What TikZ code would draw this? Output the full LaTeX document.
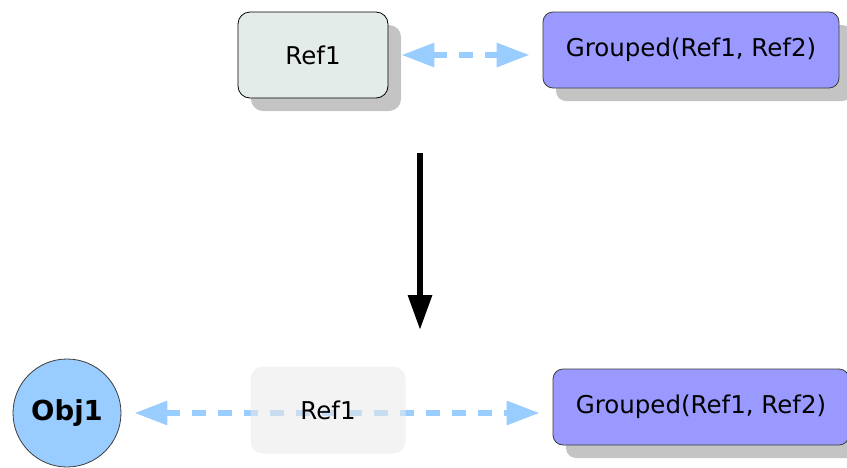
\documentclass[tikz,border=0pt]{standalone}
\usepackage{fontspec}
\setmainfont{DejaVu Sans}
\usetikzlibrary{arrows.meta,shadows}
\definecolor{refgray}{RGB}{228,236,234}
\definecolor{grpblue}{RGB}{153,153,255}
\definecolor{objblue}{RGB}{153,204,255}
\definecolor{linkblue}{RGB}{153,204,255}
\definecolor{shadowgray}{RGB}{196,196,196}
\definecolor{ghostgray}{RGB}{234,234,234}
\definecolor{edgegray}{RGB}{60,60,60}
\pgfdeclarelayer{background}
\pgfsetlayers{background,main}
\tikzset{
  x=1pt, y=-1pt,
  lbl/.style={font=\fontsize{24.5}{29}\selectfont},
  boxshadow/.style={drop shadow={shadow xshift=13pt, shadow yshift=-13pt, fill=shadowgray, opacity=1}},
  refbox/.style={lbl, draw=black, line width=0.8pt, fill=refgray, rounded corners=12pt,
    minimum width=150pt, minimum height=86pt, inner sep=0pt, boxshadow},
  grpbox/.style={lbl, draw=edgegray, line width=0.8pt, fill=grpblue, rounded corners=10pt,
    minimum width=296pt, minimum height=76pt, inner sep=0pt, boxshadow},
  ghostbox/.style={lbl, fill=ghostgray, fill opacity=0.58, text opacity=1, rounded corners=12pt,
    minimum width=155pt, minimum height=87pt, inner sep=0pt},
  objcircle/.style={circle, draw=edgegray, line width=0.8pt, fill=objblue,
    minimum size=108pt, inner sep=0pt, font=\fontsize{27.5}{32}\selectfont\bfseries},
  link/.style={draw=linkblue, line width=6pt, dash pattern=on 14pt off 12pt,
    {Triangle[length=33pt,width=23pt]}-{Triangle[length=33pt,width=23pt]},
    shorten <=13pt, shorten >=13pt},
  flow/.style={draw=black, line width=6pt, -{Triangle[length=35pt,width=23pt]}}
}
\begin{document}
\begin{tikzpicture}
\useasboundingbox (0,0) rectangle (847,467);

% upper row
\node[refbox] (refA) at (313,55) {Ref1};
\node[grpbox] (grpA) at (691,50) {Grouped(Ref1, Ref2)};

% transition arrow
\coordinate (flowtop) at (420,153);
\coordinate (flowbot) at (420,330);
\draw[flow] (flowtop) -- (flowbot);

% lower row
\node[objcircle] (obj) at (67,413) {Obj1};
\node[ghostbox] (refB) at (328,410) {Ref1};
\node[grpbox] (grpB) at (701,407) {Grouped(Ref1, Ref2)};

\begin{pgfonlayer}{background}
\draw[link] (refA.east) -- (refA.east -| grpA.west);
\draw[link] (obj.east) -- (obj.east -| grpB.west);
\end{pgfonlayer}
\end{tikzpicture}
\end{document}
